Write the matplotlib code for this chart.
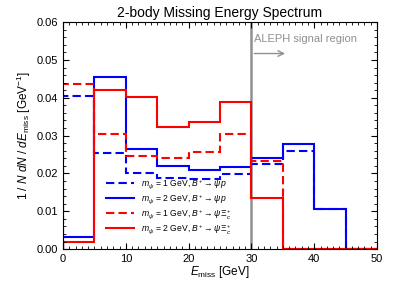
import numpy as np
import matplotlib
matplotlib.use('Agg')
import matplotlib.pyplot as plt
from matplotlib.ticker import MultipleLocator

plt.rcParams['font.family'] = ['Liberation Sans', 'DejaVu Sans']
plt.rcParams['mathtext.fontset'] = 'custom'
plt.rcParams['mathtext.rm'] = 'Liberation Sans'
plt.rcParams['mathtext.it'] = 'Liberation Sans:italic'

edges = np.arange(0, 55, 5)

# m_psi = 1 GeV, B+ -> psi p
blue_dash = [0.0405, 0.0253, 0.0202, 0.0187, 0.0186, 0.0198, 0.0225, 0.0259, 0.0107, 0.0]
# m_psi = 2 GeV, B+ -> psi p
blue_solid = [0.0032, 0.0455, 0.0265, 0.0220, 0.0210, 0.0218, 0.0242, 0.0278, 0.0106, 0.0]
# m_psi = 1 GeV, B+ -> psi Xi
red_dash = [0.0437, 0.0303, 0.0246, 0.0241, 0.0257, 0.0304, 0.0233, 0.0, 0.0, 0.0]
# m_psi = 2 GeV, B+ -> psi Xi
red_solid = [0.0018, 0.0420, 0.0401, 0.0323, 0.0336, 0.0388, 0.0136, 0.0, 0.0, 0.0]

labels = [r'$m_\psi$ = 1 GeV, $B^{+} \to \psi\, p$',
          r'$m_\psi$ = 2 GeV, $B^{+} \to \psi\, p$',
          r'$m_\psi$ = 1 GeV, $B^{+} \to \psi\, \Xi_c^{+}$',
          r'$m_\psi$ = 2 GeV, $B^{+} \to \psi\, \Xi_c^{+}$']

fig = plt.figure(figsize=(3.99, 2.99), dpi=100)
ax = fig.add_axes([0.158, 0.167, 0.787, 0.759])

ax.axvline(30, color='#909090', lw=1.8, zorder=1)

ax.stairs(blue_dash, edges, baseline=0, color='blue', lw=1.5, ls=(0, (4, 2)), label=labels[0])
ax.stairs(blue_solid, edges, baseline=0, color='blue', lw=1.5, label=labels[1])
ax.stairs(red_dash, edges, baseline=0, color='red', lw=1.5, ls=(0, (4, 2)), label=labels[2])
ax.stairs(red_solid, edges, baseline=0, color='red', lw=1.5, label=labels[3])

ax.annotate('', xy=(35.8, 0.0517), xytext=(30, 0.0517),
            arrowprops=dict(arrowstyle='->', color='#909090', lw=1.0))
ax.text(30.4, 0.0556, 'ALEPH signal region', color='#909090', fontsize=8, va='center')

ax.set_xlim(0, 50)
ax.set_ylim(0, 0.06)
ax.xaxis.set_major_locator(MultipleLocator(10))
ax.xaxis.set_minor_locator(MultipleLocator(1))
ax.yaxis.set_major_locator(MultipleLocator(0.01))
ax.yaxis.set_minor_locator(MultipleLocator(0.002))
ax.yaxis.set_major_formatter(matplotlib.ticker.FormatStrFormatter('%.2f'))
ax.tick_params(which='both', direction='in', top=True, right=True, labelsize=8)
ax.tick_params(which='major', length=4)
ax.tick_params(which='minor', length=2)

ax.set_title('2-body Missing Energy Spectrum', fontsize=10, pad=4)
ax.set_xlabel(r'$E_{\rm miss}$ [GeV]', fontsize=8.5, labelpad=0)
ax.set_ylabel(r'1 / $N$ $dN$ / $dE_{\rm miss}$ [GeV$^{-1}$]', fontsize=8.5, labelpad=3)

ax.legend(loc='lower left', bbox_to_anchor=(0.12, 0.035), fontsize=6.2, frameon=False,
          handlelength=3.3, labelspacing=0.15, handletextpad=0.8, borderpad=0.1)

fig.savefig('out.png', dpi=100)
